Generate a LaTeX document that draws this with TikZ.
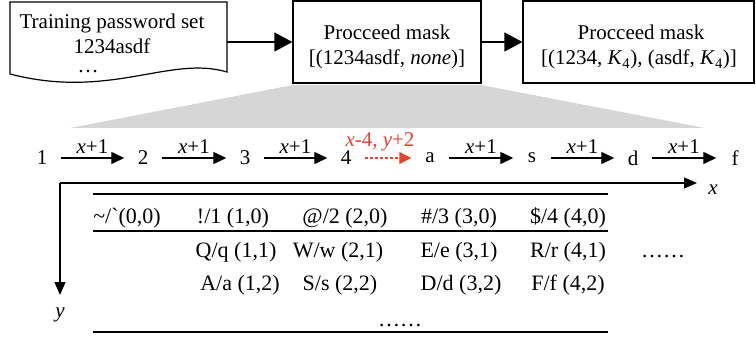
\documentclass[tikz,border=0pt]{standalone}
\usepackage{fontspec}
\setmainfont{Liberation Serif}
\newfontfamily\rawfont{Liberation Serif}[Ligatures=TeXOff]
\usetikzlibrary{arrows.meta}
\definecolor{stepred}{HTML}{E8412F}
\definecolor{fan}{HTML}{D6D6D6}
\tikzset{
  every node/.style={font=\fontsize{21}{24}\selectfont, inner sep=0pt},
  txt/.style={anchor=base},
  box/.style={draw, line width=1.2pt},
  bigarrow/.style={line width=1.2pt, -{Triangle[length=18pt,width=19pt]}},
  seq/.style={minimum width=37pt},
  seqarrow/.style={line width=1.3pt, -{Triangle[length=13pt,width=12pt]}},
  jump/.style={line width=1.1pt, stepred, dash pattern=on 3pt off 2pt, -{Triangle[length=12pt,width=12pt]}},
  steplabel/.style={above=4pt},
  axis/.style={line width=1.1pt, -{Triangle[length=13pt,width=11pt]}},
  rule/.style={line width=1.8pt},
  cell/.style={anchor=base, font=\fontsize{22}{25}\selectfont}
}
\begin{document}
\begin{tikzpicture}[x=1pt,y=-1pt]
\useasboundingbox (0,0) rectangle (756,337);

% zoom fan from the middle box down to the key sequence
\fill[fan] (70,128) -- (705,128) -- (481,85) -- (293,85) -- cycle;

% training set: document shape with a wavy bottom edge
\draw[box] (10,2) -- (227,2) -- (227,72)
  .. controls (170,55) and (110,100) .. (10,74) -- cycle;
\node[txt] (train) at (112,29) {Training password set};
\node[txt] (pw) at (112,54) {1234asdf};
\node[txt] (more) at (88,73) {\ldots};
\coordinate (docout) at (227,42);

% mask boxes
\node[box, minimum width=188pt, minimum height=82pt] (mask1) at (387,42) {};
\node[txt] (m1a) at (387,40) {Procceed mask};
\node[txt] (m1b) at (387,65) {[(1234asdf, \textit{none})]};
\node[box, minimum width=231pt, minimum height=82pt] (mask2) at (638.5,42) {};
\node[txt] (m2a) at (641,40) {Procceed mask};
\node[txt] (m2b) at (639,65) {[(1234, \textit{K}\textsubscript{4}), (asdf, \textit{K}\textsubscript{4})]};

\draw[bigarrow] (docout) -- (docout -| mask1.west);
\draw[bigarrow] (mask1.east) -- (mask2.west);

% key sequence walked on the keyboard grid
\node[seq] (k1) at (42,158) {1};
\node[seq] (k2) at (143,158) {2};
\node[seq] (k3) at (245,158) {3};
\node[seq] (k4) at (346,158) {4};
\node[seq] (k5) at (430,158) {a};
\node[seq] (k6) at (532,158) {s};
\node[seq] (k7) at (633,158) {d};
\node[seq] (k8) at (735,158) {f};

\draw[seqarrow] (k1) -- node[steplabel] {\textit{x}+1} (k2);
\draw[seqarrow] (k2) -- node[steplabel] {\textit{x}+1} (k3);
\draw[seqarrow] (k3) -- node[steplabel] {\textit{x}+1} (k4);
\draw[jump] (k4) -- node[above=6pt, xshift=-8pt, text=stepred] {\textit{x}-4, \textit{y}+2} (k5);
\draw[seqarrow] (k5) -- node[steplabel] {\textit{x}+1} (k6);
\draw[seqarrow] (k6) -- node[steplabel] {\textit{x}+1} (k7);
\draw[seqarrow] (k7) -- node[steplabel] {\textit{x}+1} (k8);

% grid axes
\coordinate (origin) at (60,183);
\coordinate (xend) at (697,183);
\coordinate (yend) at (60,295);
\draw[axis] (origin) -- (xend);
\draw[axis] (origin) -- (yend);
\node (xlab) at (713,190) {\textit{x}};
\node (ylab) at (60,315) {\textit{y}};

% keyboard coordinate table
\draw[rule] (93,194) -- (608,194);
\draw[line width=1.6pt] (93,231) -- (608,231);
\draw[rule] (93,332) -- (608,332);

\node[cell] (c00) at (127,223) {{\rawfont\char"7E/\char"60}(0,0)};
\node[cell] (c10) at (233,223) {!/1 (1,0)};
\node[cell] (c20) at (345,223) {@/2 (2,0)};
\node[cell] (c30) at (459,223) {\#/3 (3,0)};
\node[cell] (c40) at (568,223) {\$/4 (4,0)};

\node[cell] (c11) at (236,257) {Q/q (1,1)};
\node[cell] (c21) at (338,257) {W/w (2,1)};
\node[cell] (c31) at (459,257) {E/e (3,1)};
\node[cell] (c41) at (568,257) {R/r (4,1)};
\node[cell] (rowmore) at (663,257) {\ldots\ldots};

\node[cell] (c12) at (240,290) {A/a (1,2)};
\node[cell] (c22) at (340,290) {S/s (2,2)};
\node[cell] (c32) at (461,290) {D/d (3,2)};
\node[cell] (c42) at (568,290) {F/f (4,2)};

\node[cell] (colmore) at (400,326) {\ldots\ldots};
\end{tikzpicture}
\end{document}
